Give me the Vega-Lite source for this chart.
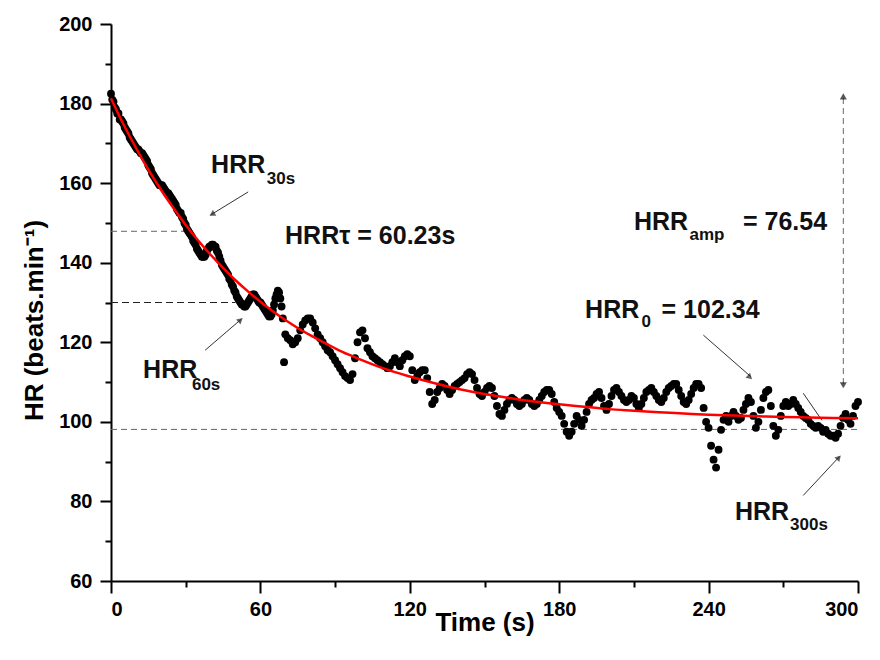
{
  "$schema": "https://vega.github.io/schema/vega-lite/v6.json",
  "width": 747,
  "height": 557,
  "autosize": "none",
  "padding": {"left": 111, "top": 24, "right": 22, "bottom": 79},
  "background": "white",
  "config": {
    "view": {"stroke": null},
    "axis": {"grid": false, "domainColor": "black", "domainWidth": 2, "tickColor": "black", "tickWidth": 2, "labelFont": "Liberation Sans", "labelFontWeight": "bold", "labelFontSize": 20, "labelColor": "black", "titleFont": "Liberation Sans", "titleFontWeight": "bold", "titleFontSize": 26, "titleColor": "black"}
  },
  "datasets": {
    "hr": [
      {"t":0,"hr":182.5},{"t":1,"hr":180.5},{"t":2,"hr":178.5},{"t":3,"hr":177.5},{"t":4,"hr":176},{"t":5,"hr":175},{"t":6,"hr":173.5},{"t":7,"hr":172.5},{"t":8,"hr":171},{"t":9,"hr":170},
      {"t":10,"hr":169},{"t":11,"hr":168.5},{"t":12,"hr":167.5},{"t":13,"hr":167},{"t":14,"hr":166},{"t":15,"hr":164.5},{"t":16,"hr":163.5},{"t":17,"hr":162},{"t":18,"hr":161},{"t":19,"hr":160},
      {"t":20,"hr":159.5},{"t":21,"hr":159},{"t":22,"hr":158},{"t":23,"hr":157.5},{"t":24,"hr":156.5},{"t":25,"hr":155.5},{"t":26,"hr":154.5},{"t":27,"hr":153},{"t":28,"hr":152.5},{"t":29,"hr":151},
      {"t":30,"hr":149.5},{"t":31,"hr":148},{"t":32,"hr":147},{"t":33,"hr":145.5},{"t":34,"hr":144.5},{"t":35,"hr":143},{"t":36,"hr":142},{"t":37,"hr":141.5},{"t":38,"hr":142},{"t":39,"hr":143.5},
      {"t":40,"hr":144},{"t":41,"hr":144.5},{"t":42,"hr":144},{"t":43,"hr":142.5},{"t":44,"hr":140.5},{"t":45,"hr":139},{"t":46,"hr":138},{"t":47,"hr":137},{"t":48,"hr":135.5},{"t":49,"hr":134},
      {"t":50,"hr":132.5},{"t":51,"hr":131},{"t":52,"hr":130},{"t":53,"hr":129.5},{"t":54,"hr":129},{"t":55,"hr":130},{"t":56,"hr":131},{"t":57,"hr":132},{"t":58,"hr":131.5},{"t":59,"hr":130.5},
      {"t":60,"hr":130},{"t":61,"hr":129},{"t":62,"hr":128},{"t":63,"hr":127},{"t":64,"hr":126.5},{"t":65,"hr":128},{"t":66,"hr":131},{"t":67,"hr":133},{"t":68,"hr":131},{"t":69,"hr":126},{"t":69.5,"hr":115},
      {"t":0.5,"hr":181},{"t":1.5,"hr":179},{"t":2.5,"hr":177.5},{"t":3.5,"hr":176},{"t":4.5,"hr":175.5},{"t":5.5,"hr":174},{"t":6.5,"hr":173},{"t":7.5,"hr":171.5},{"t":8.5,"hr":170.5},{"t":9.5,"hr":169.5},
      {"t":10.5,"hr":168.5},{"t":11.5,"hr":168},{"t":12.5,"hr":167.5},{"t":13.5,"hr":166.5},{"t":14.5,"hr":165.5},{"t":15.5,"hr":164},{"t":16.5,"hr":162.5},{"t":17.5,"hr":161.5},{"t":18.5,"hr":160.5},{"t":19.5,"hr":159.5},
      {"t":20.5,"hr":159.5},{"t":21.5,"hr":158.5},{"t":22.5,"hr":157.5},{"t":23.5,"hr":157},{"t":24.5,"hr":156},{"t":25.5,"hr":155},{"t":26.5,"hr":153.5},{"t":27.5,"hr":152.5},{"t":28.5,"hr":151.5},{"t":29.5,"hr":150},
      {"t":30.5,"hr":148.5},{"t":31.5,"hr":147.5},{"t":32.5,"hr":146.5},{"t":33.5,"hr":145},{"t":34.5,"hr":143.5},{"t":35.5,"hr":142.5},{"t":36.5,"hr":141.5},{"t":37.5,"hr":141.5},{"t":38.5,"hr":143},{"t":39.5,"hr":144},
      {"t":40.5,"hr":144.5},{"t":41.5,"hr":144},{"t":42.5,"hr":143},{"t":43.5,"hr":141.5},{"t":44.5,"hr":139.5},{"t":45.5,"hr":138.5},{"t":46.5,"hr":137.5},{"t":47.5,"hr":136},{"t":48.5,"hr":134.5},{"t":49.5,"hr":133},
      {"t":50.5,"hr":131.5},{"t":51.5,"hr":130.5},{"t":52.5,"hr":129.5},{"t":53.5,"hr":129},{"t":54.5,"hr":129.5},{"t":55.5,"hr":130.5},{"t":56.5,"hr":131.5},{"t":57.5,"hr":132},{"t":58.5,"hr":131},{"t":59.5,"hr":130},
      {"t":60.5,"hr":129.5},{"t":61.5,"hr":128.5},{"t":62.5,"hr":127.5},{"t":63.5,"hr":126.5},{"t":64.5,"hr":127},{"t":65.5,"hr":129.5},{"t":66.5,"hr":132},{"t":67.5,"hr":132.5},{"t":68.5,"hr":129},
      {"t":70,"hr":122},{"t":71,"hr":121},{"t":72,"hr":120.5},{"t":73,"hr":119.5},{"t":74,"hr":120},{"t":75,"hr":121},{"t":76,"hr":123},{"t":77,"hr":124.5},{"t":78,"hr":125.5},{"t":79,"hr":126},
      {"t":80,"hr":126},{"t":81,"hr":125},{"t":82,"hr":123.5},{"t":83,"hr":122},{"t":84,"hr":121},{"t":85,"hr":120},{"t":86,"hr":119},{"t":87,"hr":118},{"t":88,"hr":117.5},{"t":89,"hr":116.5},
      {"t":90,"hr":115.5},{"t":91,"hr":114.5},{"t":92,"hr":113.5},{"t":93,"hr":112.5},{"t":94,"hr":111.5},{"t":95,"hr":111},{"t":96,"hr":110.5},{"t":97,"hr":112},{"t":98,"hr":116},{"t":99,"hr":120},
      {"t":100,"hr":122.5},{"t":101,"hr":123},{"t":102,"hr":121},{"t":103,"hr":118.5},{"t":104,"hr":117.5},{"t":105,"hr":116.5},{"t":106,"hr":116},{"t":107,"hr":115.5},{"t":108,"hr":115},{"t":109,"hr":114.5},
      {"t":110,"hr":114},{"t":111,"hr":113.5},{"t":112,"hr":114},{"t":113,"hr":115},{"t":114,"hr":116},{"t":115,"hr":115},{"t":116,"hr":114},{"t":117,"hr":115.5},{"t":118,"hr":116.5},{"t":119,"hr":117},
      {"t":120,"hr":116.5},{"t":121,"hr":113},{"t":122,"hr":110.5},{"t":123,"hr":111.5},{"t":124,"hr":112.5},{"t":125,"hr":113},{"t":126,"hr":113},{"t":127,"hr":111},{"t":128,"hr":107.5},{"t":129,"hr":104.5},
      {"t":130,"hr":105.5},{"t":131,"hr":107.5},{"t":132,"hr":108.5},{"t":133,"hr":109.5},{"t":134,"hr":109},{"t":135,"hr":108},{"t":136,"hr":107},{"t":137,"hr":108},{"t":138,"hr":109},{"t":139,"hr":109.5},
      {"t":140,"hr":110},{"t":141,"hr":110.5},{"t":142,"hr":111},{"t":143,"hr":112},{"t":144,"hr":112.5},{"t":145,"hr":112},{"t":146,"hr":110.5},{"t":147,"hr":108.5},{"t":148,"hr":107},{"t":149,"hr":106.5},
      {"t":150,"hr":107.5},{"t":151,"hr":108.5},{"t":152,"hr":109},{"t":153,"hr":108.5},{"t":154,"hr":106.5},{"t":155,"hr":104},{"t":156,"hr":102},{"t":157,"hr":101.5},{"t":158,"hr":103},{"t":159,"hr":104.5},
      {"t":160,"hr":105.5},{"t":161,"hr":106},{"t":162,"hr":105.5},{"t":163,"hr":104.5},{"t":164,"hr":104},{"t":165,"hr":104.5},{"t":166,"hr":105.5},{"t":167,"hr":106},{"t":168,"hr":105.5},{"t":169,"hr":104.5},
      {"t":170,"hr":104},{"t":171,"hr":104.5},{"t":172,"hr":105.5},{"t":173,"hr":106.5},{"t":174,"hr":107.5},{"t":175,"hr":108},{"t":176,"hr":108},{"t":177,"hr":107},{"t":178,"hr":105},{"t":179,"hr":103.5},
      {"t":180,"hr":102.5},{"t":181,"hr":101.5},{"t":182,"hr":99.5},{"t":183,"hr":97.5},{"t":184,"hr":96.5},{"t":185,"hr":97.5},{"t":186,"hr":99.5},{"t":187,"hr":101.5},{"t":188,"hr":100.5},{"t":189,"hr":99},
      {"t":190,"hr":100.5},{"t":191,"hr":102.5},{"t":192,"hr":104.5},{"t":193,"hr":105.5},{"t":194,"hr":106},{"t":195,"hr":107},{"t":196,"hr":107.5},{"t":197,"hr":106},{"t":198,"hr":104},{"t":199,"hr":103},
      {"t":200,"hr":104.5},{"t":201,"hr":106.5},{"t":202,"hr":108},{"t":203,"hr":108.5},{"t":204,"hr":107.5},{"t":205,"hr":106.5},{"t":206,"hr":105.5},{"t":207,"hr":105},{"t":208,"hr":105.5},{"t":209,"hr":106.5},
      {"t":210,"hr":106},{"t":211,"hr":104.5},{"t":212,"hr":103.5},{"t":213,"hr":104.5},{"t":214,"hr":106},{"t":215,"hr":107.5},{"t":216,"hr":108},{"t":217,"hr":108.5},{"t":218,"hr":107.5},{"t":219,"hr":106.5},
      {"t":220,"hr":105.5},{"t":221,"hr":105},{"t":222,"hr":106},{"t":223,"hr":107.5},{"t":224,"hr":108.5},{"t":225,"hr":109},{"t":226,"hr":109.5},{"t":227,"hr":109.5},{"t":228,"hr":108},{"t":229,"hr":106.5},
      {"t":230,"hr":105},{"t":231,"hr":104.5},{"t":232,"hr":105.5},{"t":233,"hr":107},{"t":234,"hr":108.5},{"t":235,"hr":109.5},{"t":236,"hr":109.5},{"t":237,"hr":108.5},{"t":238,"hr":103.5},{"t":239,"hr":100},
      {"t":240,"hr":98.5},{"t":241,"hr":94},{"t":242,"hr":90.5},{"t":243,"hr":88.5},{"t":244,"hr":93},{"t":245,"hr":98},{"t":246,"hr":100.5},{"t":247,"hr":101.5},{"t":248,"hr":100},{"t":249,"hr":101.5},
      {"t":250,"hr":102.5},{"t":251,"hr":101.5},{"t":252,"hr":100.5},{"t":253,"hr":101},{"t":254,"hr":103},{"t":255,"hr":104.5},{"t":256,"hr":106},{"t":257,"hr":105},{"t":258,"hr":101.5},{"t":259,"hr":98.5},
      {"t":260,"hr":100},{"t":261,"hr":103},{"t":262,"hr":106},{"t":263,"hr":107.5},{"t":264,"hr":108},{"t":265,"hr":104},{"t":266,"hr":99},{"t":267,"hr":96.5},{"t":268,"hr":98},{"t":269,"hr":101.5},
      {"t":270,"hr":104},{"t":271,"hr":105},{"t":272,"hr":104},{"t":273,"hr":104.5},{"t":274,"hr":105.5},{"t":275,"hr":104.5},{"t":276,"hr":103.5},{"t":277,"hr":102.5},{"t":278,"hr":101.5},{"t":279,"hr":101},
      {"t":280,"hr":100.5},{"t":281,"hr":99.5},{"t":282,"hr":99},{"t":283,"hr":98.5},{"t":284,"hr":99},{"t":285,"hr":98.5},{"t":286,"hr":97.5},{"t":287,"hr":98},{"t":288,"hr":97},{"t":289,"hr":96.5},
      {"t":290,"hr":96.5},{"t":291,"hr":96},{"t":292,"hr":97},{"t":293,"hr":99},{"t":294,"hr":101},{"t":295,"hr":102},{"t":296,"hr":100.5},{"t":297,"hr":99.5},{"t":298,"hr":101.5},{"t":299,"hr":104},{"t":300,"hr":105}
    ],
    "fit": [
      {"t":0,"hr":181.3},{"t":5,"hr":174.8},{"t":10,"hr":168.9},{"t":15,"hr":163.4},{"t":20,"hr":158.4},{"t":25,"hr":153.8},{"t":30,"hr":149.5},{"t":35,"hr":145.6},{"t":40,"hr":142.0},{"t":45,"hr":138.7},
      {"t":50,"hr":135.6},{"t":55,"hr":132.8},{"t":60,"hr":130.2},{"t":65,"hr":127.8},{"t":70,"hr":125.6},{"t":75,"hr":123.6},{"t":80,"hr":121.8},{"t":85,"hr":120.1},{"t":90,"hr":118.5},{"t":95,"hr":117.0},
      {"t":100,"hr":115.7},{"t":110,"hr":113.3},{"t":120,"hr":111.4},{"t":130,"hr":109.7},{"t":140,"hr":108.2},{"t":150,"hr":107.0},{"t":160,"hr":106.0},{"t":170,"hr":105.1},{"t":180,"hr":104.4},{"t":190,"hr":103.8},
      {"t":200,"hr":103.2},{"t":210,"hr":102.8},{"t":220,"hr":102.4},{"t":230,"hr":102.1},{"t":240,"hr":101.8},{"t":250,"hr":101.6},{"t":260,"hr":101.4},{"t":270,"hr":101.2},{"t":280,"hr":101.1},{"t":290,"hr":101.0},{"t":300,"hr":100.9}
    ],
    "refs": [
      {"x1":0,"y1":147.9,"x2":29.7,"y2":147.9},
      {"x1":0,"y1":98.1,"x2":300,"y2":98.1},
      {"x1":294.1,"y1":109.5,"x2":294.1,"y2":181.5}
    ],
    "refs2": [
      {"x1":0,"y1":130.0,"x2":50,"y2":130.0}
    ],
    "arrows": [
      {"x1":55.1,"y1":157.8,"x2":40.0,"y2":152.0},
      {"x1":37.8,"y1":118.0,"x2":52.3,"y2":125.8},
      {"x1":237.9,"y1":121.8,"x2":256.9,"y2":111.4},
      {"x1":278.0,"y1":81.5,"x2":292.6,"y2":91.3},
      {"x1":278.0,"y1":107.2,"x2":285.5,"y2":100.4}
    ],
    "heads": [
      {"arrow":"a30","t":40.6,"hr":152.2},
      {"arrow":"a60","t":52.0,"hr":125.6},
      {"arrow":"a0","t":256.6,"hr":111.2},
      {"arrow":"a300","t":292.3,"hr":91.0},
      {"arrow":"up","t":294.1,"hr":181.8},
      {"arrow":"down","t":294.1,"hr":109.2}
    ],
    "labels": [
      {"t":40.2,"hr":162.5,"text":"HRR"},
      {"t":12.9,"hr":110.9,"text":"HRR"},
      {"t":69.9,"hr":144.8,"text":"HRRτ = 60.23s"},
      {"t":210,"hr":148.2,"text":"HRR"},
      {"t":253.8,"hr":148.2,"text":"= 76.54"},
      {"t":190.4,"hr":126.0,"text":"HRR"},
      {"t":221.1,"hr":126.0,"text":"= 102.34"},
      {"t":250.6,"hr":75.3,"text":"HRR"}
    ],
    "subs": [
      {"t":62.6,"hr":159.8,"text":"30s"},
      {"t":32.5,"hr":108.1,"text":"60s"},
      {"t":232.3,"hr":145.7,"text":"amp"},
      {"t":213.1,"hr":123.9,"text":"0"},
      {"t":272.7,"hr":72.9,"text":"300s"}
    ]
  },
  "resolve": {"axis": {"x": "independent", "y": "independent"}},
  "layer": [
    {
      "data": {"name": "refs"},
      "mark": {"type": "rule", "color": "#666666", "strokeWidth": 1, "strokeDash": [6, 4]},
      "encoding": {
        "x": {"field": "x1", "type": "quantitative", "scale": {"domain": [0, 300], "nice": false, "zero": false}, "axis": {"orient": "bottom", "values": [0, 60, 120, 180, 240, 300], "tickSize": 12, "labelPadding": 6, "title": "Time (s)", "titleY": 49, "titleBaseline": "alphabetic"}},
        "y": {"field": "y1", "type": "quantitative", "scale": {"domain": [60, 200], "nice": false, "zero": false}, "axis": {"orient": "left", "values": [60, 80, 100, 120, 140, 160, 180, 200], "tickSize": 11, "labelPadding": 8, "title": "HR (beats.min⁻¹)", "titleX": -69, "titleY": 296, "titleBaseline": "alphabetic", "titleAngle": 270}},
        "x2": {"field": "x2"},
        "y2": {"field": "y2"}
      }
    },
    {
      "data": {"name": "arrows"},
      "mark": {"type": "rule", "color": "#333333", "strokeWidth": 1},
      "encoding": {
        "x": {"field": "x1", "type": "quantitative", "axis": {"orient": "bottom", "values": [30, 90, 150, 210, 270], "tickSize": 6, "labels": false, "domain": false, "title": null}},
        "y": {"field": "y1", "type": "quantitative", "axis": {"orient": "left", "values": [70, 90, 110, 130, 150, 170, 190], "tickSize": 6, "labels": false, "domain": false, "title": null}},
        "x2": {"field": "x2"},
        "y2": {"field": "y2"}
      }
    },
    {
      "data": {"name": "refs2"},
      "mark": {"type": "rule", "color": "#222222", "strokeWidth": 1.2, "strokeDash": [7, 4]},
      "encoding": {
        "x": {"field": "x1", "type": "quantitative", "axis": null},
        "y": {"field": "y1", "type": "quantitative", "axis": null},
        "x2": {"field": "x2"},
        "y2": {"field": "y2"}
      }
    },
    {
      "data": {"name": "hr"},
      "mark": {"type": "point", "filled": true, "color": "black", "size": 62, "opacity": 1},
      "encoding": {
        "x": {"field": "t", "type": "quantitative", "axis": null},
        "y": {"field": "hr", "type": "quantitative", "axis": null}
      }
    },
    {
      "data": {"name": "fit"},
      "mark": {"type": "line", "color": "#ff0000", "strokeWidth": 2.5, "interpolate": "monotone"},
      "encoding": {
        "x": {"field": "t", "type": "quantitative", "axis": null},
        "y": {"field": "hr", "type": "quantitative", "axis": null}
      }
    },
    {
      "data": {"name": "heads"},
      "transform": [{"filter": "datum.arrow == 'a30'"}],
      "mark": {"type": "point", "shape": "triangle-up", "filled": true, "color": "#222222", "size": 45, "angle": 240},
      "encoding": {"x": {"field": "t", "type": "quantitative", "axis": null}, "y": {"field": "hr", "type": "quantitative", "axis": null}}
    },
    {
      "data": {"name": "heads"},
      "transform": [{"filter": "datum.arrow == 'a60'"}],
      "mark": {"type": "point", "shape": "triangle-up", "filled": true, "color": "#222222", "size": 45, "angle": 49},
      "encoding": {"x": {"field": "t", "type": "quantitative", "axis": null}, "y": {"field": "hr", "type": "quantitative", "axis": null}}
    },
    {
      "data": {"name": "heads"},
      "transform": [{"filter": "datum.arrow == 'a0'"}],
      "mark": {"type": "point", "shape": "triangle-up", "filled": true, "color": "#222222", "size": 45, "angle": 132},
      "encoding": {"x": {"field": "t", "type": "quantitative", "axis": null}, "y": {"field": "hr", "type": "quantitative", "axis": null}}
    },
    {
      "data": {"name": "heads"},
      "transform": [{"filter": "datum.arrow == 'a300'"}],
      "mark": {"type": "point", "shape": "triangle-up", "filled": true, "color": "#222222", "size": 45, "angle": 43},
      "encoding": {"x": {"field": "t", "type": "quantitative", "axis": null}, "y": {"field": "hr", "type": "quantitative", "axis": null}}
    },
    {
      "data": {"name": "heads"},
      "transform": [{"filter": "datum.arrow == 'up'"}],
      "mark": {"type": "point", "shape": "triangle-up", "filled": true, "color": "#111111", "size": 50, "angle": 0},
      "encoding": {"x": {"field": "t", "type": "quantitative", "axis": null}, "y": {"field": "hr", "type": "quantitative", "axis": null}}
    },
    {
      "data": {"name": "heads"},
      "transform": [{"filter": "datum.arrow == 'down'"}],
      "mark": {"type": "point", "shape": "triangle-up", "filled": true, "color": "#111111", "size": 50, "angle": 180},
      "encoding": {"x": {"field": "t", "type": "quantitative", "axis": null}, "y": {"field": "hr", "type": "quantitative", "axis": null}}
    },
    {
      "data": {"name": "labels"},
      "mark": {"type": "text", "align": "left", "baseline": "alphabetic", "font": "Liberation Sans", "fontWeight": "bold", "fontSize": 25, "color": "#111111"},
      "encoding": {
        "x": {"field": "t", "type": "quantitative", "axis": null},
        "y": {"field": "hr", "type": "quantitative", "axis": null},
        "text": {"field": "text"}
      }
    },
    {
      "data": {"name": "subs"},
      "mark": {"type": "text", "align": "left", "baseline": "alphabetic", "font": "Liberation Sans", "fontWeight": "bold", "fontSize": 17, "color": "#111111"},
      "encoding": {
        "x": {"field": "t", "type": "quantitative", "axis": null},
        "y": {"field": "hr", "type": "quantitative", "axis": null},
        "text": {"field": "text"}
      }
    }
  ]
}
